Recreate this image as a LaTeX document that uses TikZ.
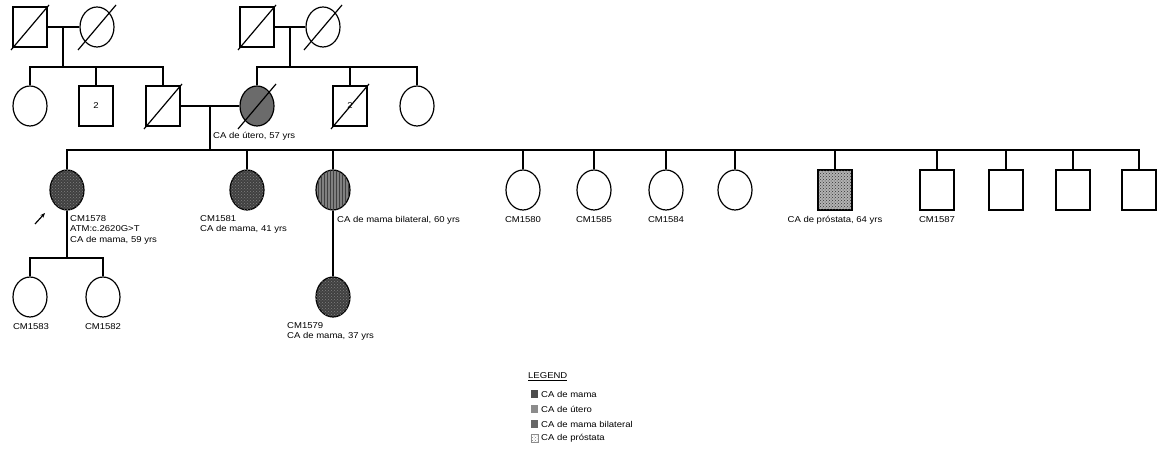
\documentclass[tikz,border=0pt]{standalone}
\usepackage{fontspec}
\setmainfont{Liberation Sans}[FakeStretch=1.12]
\usetikzlibrary{shapes.geometric,patterns,arrows.meta}
\newcommand\deadmark[1]{\draw[ln] ([shift={(-19,23)}]#1.center) -- ([shift={(19,-22)}]#1.center);}
\begin{document}
\begin{tikzpicture}[x=1pt,y=-1pt,
  ln/.style={line width=1.2pt},
  ind/.style={draw, line width=1.2pt, inner sep=0pt, minimum width=34pt, minimum height=40pt,
    font=\fontsize{8.5}{10}\selectfont},
  fem/.style={ind, ellipse},
  mal/.style={ind, rectangle},
  mama/.style={fill=black!75, postaction={pattern=crosshatch dots, pattern color=black!50}},
  utero/.style={fill=black!58},
  bilat/.style={fill=black!50, postaction={pattern=vertical lines, pattern color=black!75}},
  prost/.style={fill=black!30, postaction={pattern=crosshatch dots, pattern color=black!80}},
  lbl/.style={font=\fontsize{8.5}{10.5}\selectfont, inner sep=0pt, align=left},
  key/.style={inner sep=0pt, minimum size=7.5pt},
]
\useasboundingbox (0,0) rectangle (1159,454);

% Generation I
\node[mal] (gpa1) at (30,27) {};
\node[fem] (gma1) at (97,27) {};
\node[mal] (gpa2) at (257,27) {};
\node[fem] (gma2) at (323,27) {};
\deadmark{gpa1}\deadmark{gma1}\deadmark{gpa2}\deadmark{gma2}
\coordinate (m1) at (63,27);
\coordinate (sib1) at (63,67);
\coordinate (m2) at (290,27);
\coordinate (sib2) at (290,67);
\draw[ln] (gpa1.east) -- (gma1.west);
\draw[ln] (gpa2.east) -- (gma2.west);
\draw[ln] (m1) -- (sib1);
\draw[ln] (m2) -- (sib2);

% Generation II
\node[fem] (a1) at (30,106) {};
\node[mal] (b2) at (96,106) {2};
\node[mal] (fa) at (163,106) {};
\node[fem,utero] (mo) at (257,106) {};
\node[mal] (u2) at (350,106) {2};
\node[fem] (a2) at (417,106) {};
\deadmark{fa}\deadmark{mo}\deadmark{u2}
\draw[ln] (a1.north) |- (sib1) -| (fa.north);
\draw[ln] (b2.north) -- (b2.north |- sib1);
\draw[ln] (mo.north) |- (sib2) -| (a2.north);
\draw[ln] (u2.north) -- (u2.north |- sib2);
\draw[ln] (fa.east) -- (mo.west);
\coordinate (m3) at (210,106);
\coordinate (sib3) at (210,150);
\draw[ln] (m3) -- (sib3);
\node[lbl, anchor=west] (lmo) at (213,136) {CA de útero, 57 yrs};

% Generation III
\node[fem,mama] (c1) at (67,190) {};
\node[fem,mama] (c2) at (247,190) {};
\node[fem,bilat] (c3) at (333,190) {};
\node[fem] (c4) at (523,190) {};
\node[fem] (c5) at (594,190) {};
\node[fem] (c6) at (666,190) {};
\node[fem] (c7) at (735,190) {};
\node[mal,prost] (c8) at (835,190) {};
\node[mal] (c9) at (937,190) {};
\node[mal] (c10) at (1006,190) {};
\node[mal] (c11) at (1073,190) {};
\node[mal] (c12) at (1139,190) {};
\draw[ln] (c1.north) |- (sib3) -| (c12.north);
\foreach \c in {c2,c3,c4,c5,c6,c7,c8,c9,c10,c11}
  \draw[ln] (\c.north) -- (\c.north |- sib3);

\node[lbl, anchor=north west] (l1) at (70,215) {CM1578\\ATM:c.2620G>T\\CA de mama, 59 yrs};
\node[lbl, anchor=north west] (l2) at (200,215) {CM1581\\CA de mama, 41 yrs};
\node[lbl, anchor=west] (l3) at (337,220) {CA de mama bilateral, 60 yrs};
\node[lbl] (l4) at (523,220) {CM1580};
\node[lbl] (l5) at (594,220) {CM1585};
\node[lbl] (l6) at (666,220) {CM1584};
\node[lbl] (l8) at (835,220) {CA de próstata, 64 yrs};
\node[lbl] (l9) at (937,220) {CM1587};

% proband arrow
\coordinate (arS) at (35,224);
\coordinate (arT) at (45,213);
\draw[line width=1.2pt, -{Stealth[length=5pt,width=4pt]}] (arS) -- (arT);

% Generation IV
\node[fem] (d1) at (30,297) {};
\node[fem] (d2) at (103,297) {};
\node[fem,mama] (d3) at (333,297) {};
\coordinate (sib4) at (67,258);
\draw[ln] (c1.south) -- (sib4);
\draw[ln] (d1.north) |- (sib4) -| (d2.north);
\draw[ln] (c3.south) -- (d3.north);
\node[lbl] (l10) at (31,327) {CM1583};
\node[lbl] (l11) at (103,327) {CM1582};
\node[lbl, anchor=north west] (l12) at (287,322) {CM1579\\CA de mama, 37 yrs};

% Legend
\node[lbl, anchor=west] (leg) at (528,377) {\underline{LEGEND}};
\node[key, fill=black!70] (k1) at (534.5,394) {};
\node[key, fill=black!45] (k2) at (534.5,409) {};
\node[key, fill=black!60] (k3) at (534.5,424) {};
\node[key, draw=black!45, line width=0.4pt, pattern=crosshatch dots, pattern color=black!50] (k4) at (534.5,438) {};
\node[lbl, anchor=west] (t1) at (541,394) {CA de mama};
\node[lbl, anchor=west] (t2) at (541,409) {CA de útero};
\node[lbl, anchor=west] (t3) at (541,424) {CA de mama bilateral};
\node[lbl, anchor=west] (t4) at (541,438) {CA de próstata};
\end{tikzpicture}
\end{document}
